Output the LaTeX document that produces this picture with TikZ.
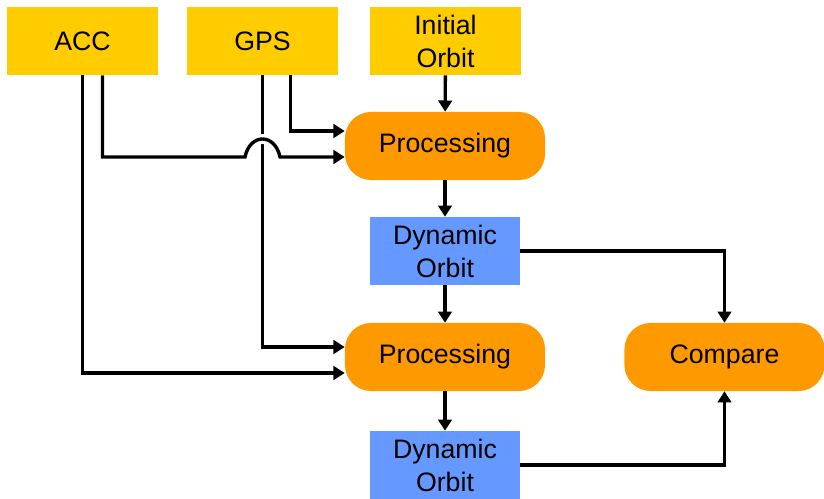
\documentclass[tikz,border=0pt]{standalone}
\usepackage{fontspec}
\setmainfont{Liberation Sans}
\usetikzlibrary{arrows.meta}

\definecolor{srcyellow}{HTML}{FFCC00}
\definecolor{procorange}{HTML}{FF9900}
\definecolor{orbitblue}{HTML}{6699FF}

\tikzset{
	source/.style={fill=srcyellow, inner sep=0pt, minimum width=3.75cm, minimum height=1.7cm, align=center},
	process/.style={fill=procorange, rounded corners=0.65cm, inner sep=0pt, minimum width=5cm, minimum height=1.7cm},
	orbit/.style={fill=orbitblue, inner sep=0pt, minimum width=3.75cm, minimum height=1.7cm, align=center},
	flow/.style={line width=2.4pt, -{Triangle[length=2.8mm,width=3.4mm]}},
}

\begin{document}
\begin{tikzpicture}[x=0.025cm, y=-0.025cm, font=\fontsize{19}{23.5}\selectfont]
		\useasboundingbox (0,0) rectangle (824,499);

		\draw (82.5, 41)  node[source] (acc)   {ACC};
		\draw (262.5, 41) node[source] (gps)   {GPS};
		\draw (445.5, 41) node[source] (init)  {Initial\\Orbit};
		\draw (445, 146)  node[process] (proc1) {Processing};
		\draw (445, 251)  node[orbit] (dyn1)   {Dynamic\\Orbit};
		\draw (445, 357)  node[process] (proc2) {Processing};
		\draw (724.5, 357) node[process] (cmp) {Compare};
		\draw (445, 465)  node[orbit] (dyn2)   {Dynamic\\Orbit};

		% ends of the jump over the GPS line
		\coordinate (hopL) at (245, 157);
		\coordinate (hopR) at (280, 157);

		\draw[flow] (gps.south) |- ([yshift=0.25cm]proc2.west);
		\draw[flow] ([xshift=0.7cm]gps.south) |- ([yshift=0.375cm]proc1.west);
		\draw[flow] (acc.south) |- ([yshift=-0.4cm]proc2.west);
		\draw[white, line width=7pt] (hopL) .. controls +(5,-24) and +(-5,-24) .. (hopR);
		\draw[flow] ([xshift=0.5cm]acc.south) |- (hopL) .. controls +(5,-24) and +(-5,-24) .. (hopR) -- ([yshift=-0.275cm]proc1.west);

		\draw[flow] (init) -- (proc1);
		\draw[flow] (proc1) -- (dyn1);
		\draw[flow] (dyn1) -- (proc2);
		\draw[flow] (proc2) -- (dyn2);
		\draw[flow] (dyn1.east) -| (cmp.north);
		\draw[flow] (dyn2.east) -| (cmp.south);
	\end{tikzpicture}
\end{document}
